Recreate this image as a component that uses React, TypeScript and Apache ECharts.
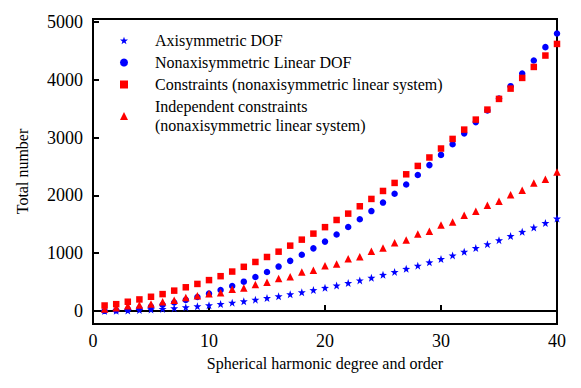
import React, { useEffect, useRef } from "react";
import * as echarts from "echarts";

const degrees = [1,2,3,4,5,6,7,8,9,10,11,12,13,14,15,16,17,18,19,20,21,22,23,24,25,26,27,28,29,30,31,32,33,34,35,36,37,38,39,40];

const axisymmetricDOF = [1,4,9,16,25,36,49,64,81,100,121,144,169,196,225,256,289,324,361,400,441,484,529,576,625,676,729,784,841,900,961,1024,1089,1156,1225,1296,1369,1444,1521,1600];

const nonaxisymmetricDOF = [3,12,27,48,75,108,147,192,243,300,363,432,507,588,675,768,867,972,1083,1200,1323,1452,1587,1728,1875,2028,2187,2352,2523,2700,2883,3072,3267,3468,3675,3888,4107,4332,4563,4800];

const constraints = [95,118,160,200,246,292,352,410,468,534,602,682,764,848,934,1026,1130,1234,1338,1450,1574,1684,1811,1938,2076,2215,2364,2509,2655,2810,2976,3137,3310,3483,3668,3846,4031,4221,4418,4619];

const independentConstraints = [35,58,92,104,120,161,185,234,265,300,317,375,398,456,496,560,594,675,704,784,813,905,940,1033,1090,1182,1228,1332,1379,1488,1540,1656,1725,1829,1898,2012,2088,2215,2279,2405];

const yTicks = [0, 1000, 2000, 3000, 4000, 5000];

const seriesNames = [
  "Axisymmetric DOF",
  "Nonaxisymmetric Linear DOF",
  "Constraints (nonaxisymmetric linear system)",
  "Independent constraints\n(nonaxisymmetric linear system)",
];

const STAR = "path://M0,-10 L2.35,-3.24 L9.51,-3.09 L3.8,1.24 L5.88,8.09 L0,4 L-5.88,8.09 L-3.8,1.24 L-9.51,-3.09 L-2.35,-3.24 Z";
const FONT = "Liberation Serif";

const pairs = (ys: number[]) => degrees.map((d, i) => [d, ys[i]]);

export default function App() {
  const ref = useRef<HTMLDivElement>(null);
  useEffect(() => {
    if (!ref.current) return;
    const chart = echarts.init(ref.current, undefined, { renderer: "svg" });
    const axisCommon = {
      axisLine: { show: true, lineStyle: { color: "#000", width: 2 } },
      axisTick: { show: true, inside: true, length: 6, lineStyle: { color: "#000", width: 2 } },
      splitLine: { show: false },
    };
    chart.setOption({
      animation: false,
      backgroundColor: "#fff",
      grid: {
        left: 93, right: 24, top: 19, bottom: 64,
        show: true, borderColor: "#000", borderWidth: 2, backgroundColor: "transparent",
      },
      xAxis: {
        type: "value",
        min: 0,
        max: 40,
        interval: 10,
        ...axisCommon,
        axisLabel: { color: "#000", fontFamily: FONT, fontSize: 18, margin: 8 },
        name: "Spherical harmonic degree and order",
        nameLocation: "middle",
        nameGap: 31,
        nameTextStyle: { color: "#000", fontFamily: FONT, fontSize: 16 },
      },
      yAxis: {
        type: "value",
        min: -225,
        max: 5050,
        ...axisCommon,
        axisTick: { ...axisCommon.axisTick, customValues: yTicks },
        axisLabel: {
          color: "#000", fontFamily: FONT, fontSize: 18, margin: 10, customValues: yTicks,
          formatter: (v: number) => String(v),
        },
        name: "Total number",
        nameLocation: "middle",
        nameGap: 63,
        nameTextStyle: { color: "#000", fontFamily: FONT, fontSize: 16 },
      },
      legend: {
        orient: "vertical",
        left: 120,
        top: 31,
        padding: 0,
        itemGap: 3,
        itemWidth: 8,
        itemHeight: 8,
        data: seriesNames,
        textStyle: { color: "#000", fontFamily: FONT, fontSize: 16, lineHeight: 19, padding: [0, 0, 0, 22] },
      },
      series: [
        { name: seriesNames[0], type: "scatter", data: pairs(axisymmetricDOF), symbol: STAR, symbolSize: 8, itemStyle: { color: "#0000ff", opacity: 1 } },
        { name: seriesNames[1], type: "scatter", data: pairs(nonaxisymmetricDOF), symbol: "circle", symbolSize: 6.5, itemStyle: { color: "#0000ff", opacity: 1 } },
        { name: seriesNames[2], type: "scatter", data: pairs(constraints), symbol: "rect", symbolSize: 6.5, itemStyle: { color: "#ff0000", opacity: 1 } },
        { name: seriesNames[3], type: "scatter", data: pairs(independentConstraints), symbol: "triangle", symbolSize: 7.5, itemStyle: { color: "#ff0000", opacity: 1 } },
      ],
    });
    return () => chart.dispose();
  }, []);
  return <div ref={ref} style={{ width: 581, height: 388, position: "absolute", left: 0, top: 0 }} />;
}
